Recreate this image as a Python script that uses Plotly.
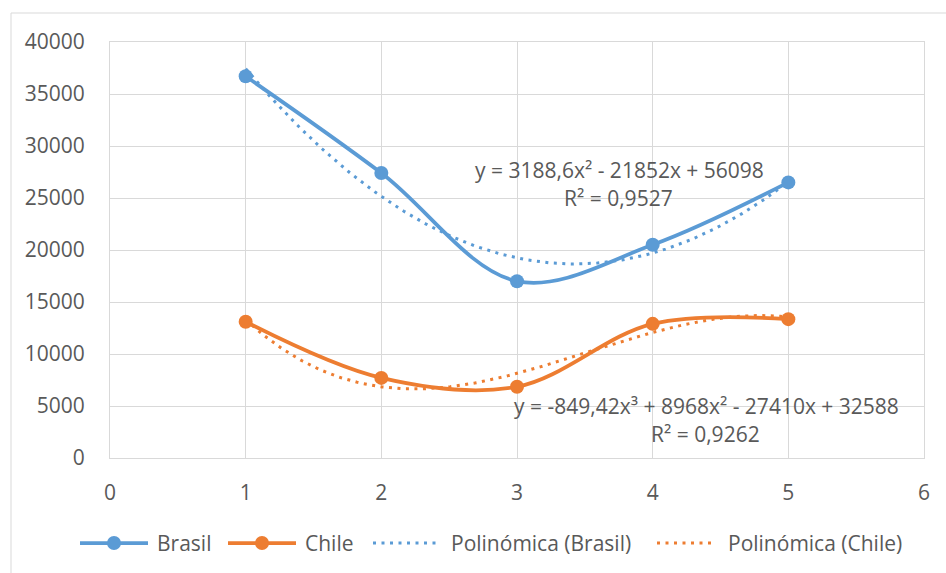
import numpy as np
import plotly.graph_objects as go

# ---------------- data ----------------
x_vals = [1, 2, 3, 4, 5]
brasil = [36700, 27400, 17000, 20500, 26500]
chile = [13100, 7700, 6850, 12900, 13350]

# trendline coefficients as printed on the chart (highest power first)
brasil_coef = [3188.6, -21852, 56098]
chile_coef = [-849.42, 8968, -27410, 32588]

brasil_eq = "y = 3188,6x² - 21852x + 56098"
brasil_r2 = "R² = 0,9527"
chile_eq = "y = -849,42x³ + 8968x² - 27410x + 32588"
chile_r2 = "R² = 0,9262"

series_names = ["Brasil", "Chile", "Polinómica (Brasil)", "Polinómica (Chile)"]
x_ticks = [0, 1, 2, 3, 4, 5, 6]
y_ticks = [0, 5000, 10000, 15000, 20000, 25000, 30000, 35000, 40000]

# ---------------- style ----------------
BLUE = "#5B9BD5"
ORANGE = "#ED7D31"
TXT = "#595959"
GRID = "#D9D9D9"
FONT = "Open Sans"
FS = 21

W, H = 946, 573
ML, MR, MT, MB = 110, 22, 42, 115
PW, PH = W - ML - MR, H - MT - MB


def pxx(p):
    return (p - ML) / PW


def pxy(p):
    return (MT + PH - p) / PH


x_dense = np.linspace(min(x_vals), max(x_vals), 200)
brasil_fit = np.polyval(brasil_coef, x_dense)
chile_fit = np.polyval(chile_coef, x_dense)

DOT = "3px,5.5px"

fig = go.Figure()
fig.add_trace(go.Scatter(x=x_dense, y=brasil_fit, mode="lines", name=series_names[2],
                         line=dict(color=BLUE, width=3, dash=DOT), showlegend=False))
fig.add_trace(go.Scatter(x=x_dense, y=chile_fit, mode="lines", name=series_names[3],
                         line=dict(color=ORANGE, width=3, dash=DOT), showlegend=False))
fig.add_trace(go.Scatter(x=x_vals, y=brasil, mode="lines+markers", name=series_names[0],
                         line=dict(color=BLUE, width=3.75, shape="spline", smoothing=1),
                         marker=dict(size=14, color=BLUE), showlegend=False))
fig.add_trace(go.Scatter(x=x_vals, y=chile, mode="lines+markers", name=series_names[1],
                         line=dict(color=ORANGE, width=3.75, shape="spline", smoothing=1),
                         marker=dict(size=14, color=ORANGE), showlegend=False))

shapes = []
annotations = []

# outer chart border
shapes.append(dict(type="rect", xref="paper", yref="paper",
                   x0=pxx(11), x1=pxx(W + 5), y0=pxy(13), y1=pxy(H + 5),
                   line=dict(color=GRID, width=1), fillcolor="rgba(0,0,0,0)", layer="below"))

# equations
annotations += [
    dict(x=pxx(619), y=pxy(170), xref="paper", yref="paper", text=brasil_eq, showarrow=False,
         xanchor="center", yanchor="middle", font=dict(family=FONT, size=FS, color=TXT)),
    dict(x=pxx(618), y=pxy(198), xref="paper", yref="paper", text=brasil_r2, showarrow=False,
         xanchor="center", yanchor="middle", font=dict(family=FONT, size=FS, color=TXT)),
    dict(x=pxx(706), y=pxy(406), xref="paper", yref="paper", text=chile_eq, showarrow=False,
         xanchor="center", yanchor="middle", font=dict(family=FONT, size=FS, color=TXT)),
    dict(x=pxx(705), y=pxy(434), xref="paper", yref="paper", text=chile_r2, showarrow=False,
         xanchor="center", yanchor="middle", font=dict(family=FONT, size=FS, color=TXT)),
]

# manual legend
LY = 543
legend_items = [
    (80, 148, BLUE, "solid", True, 155, series_names[0]),
    (228, 296, ORANGE, "solid", True, 303, series_names[1]),
    (373, 438, BLUE, DOT, False, 449, series_names[2]),
    (657, 716, ORANGE, DOT, False, 726, series_names[3]),
]
for x0, x1, col, dash, mk, tx, label in legend_items:
    shapes.append(dict(type="line", xref="paper", yref="paper", x0=pxx(x0), x1=pxx(x1),
                       y0=pxy(LY), y1=pxy(LY),
                       line=dict(color=col, width=3.75 if mk else 3, dash=dash)))
    if mk:
        cx = (x0 + x1) / 2
        shapes.append(dict(type="circle", xref="paper", yref="paper",
                           x0=pxx(cx - 7), x1=pxx(cx + 7), y0=pxy(LY - 7), y1=pxy(LY + 7),
                           line=dict(color=col, width=0), fillcolor=col))
    annotations.append(dict(x=pxx(tx), y=pxy(LY), xref="paper", yref="paper", text=label,
                            showarrow=False, xanchor="left", yanchor="middle",
                            font=dict(family=FONT, size=FS, color=TXT)))

fig.update_layout(
    width=W, height=H,
    margin=dict(l=ML, r=MR, t=MT, b=MB, pad=0),
    paper_bgcolor="white", plot_bgcolor="white",
    font=dict(family=FONT, size=FS, color=TXT),
    showlegend=False,
    shapes=shapes, annotations=annotations,
    xaxis=dict(range=[0, 6], tickvals=x_ticks, ticktext=[str(v) for v in x_ticks],
               showgrid=True, gridcolor=GRID, gridwidth=1, zeroline=False,
               showline=True, linecolor=GRID, mirror=True, ticks="",
               ticklabelstandoff=16, tickfont=dict(family=FONT, size=FS, color=TXT)),
    yaxis=dict(range=[0, 40000], tickvals=y_ticks, ticktext=[str(v) for v in y_ticks],
               showgrid=True, gridcolor=GRID, gridwidth=1, zeroline=False,
               showline=True, linecolor=GRID, mirror=True, ticks="",
               ticklabelstandoff=20, tickfont=dict(family=FONT, size=FS, color=TXT)),
)

fig.write_html("out.html", config={"displayModeBar": False},
               post_script="document.body.style.margin='0';document.body.style.overflow='hidden';")
